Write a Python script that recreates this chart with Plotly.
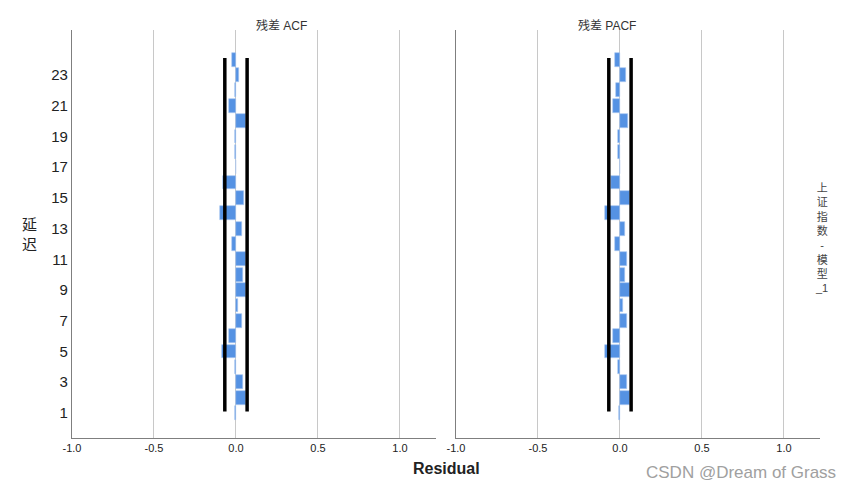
import plotly.graph_objects as go

lags = list(range(1, 25))
acf_vals = [-0.006, 0.059, 0.040, -0.006, -0.085, -0.040, 0.035, 0.010, 0.059, 0.045, 0.059, -0.026,
            0.039, -0.098, 0.049, -0.080, 0.001, -0.004, -0.005, 0.059, -0.040, -0.006, 0.020, -0.026]
pacf_vals = [-0.006, 0.061, 0.041, -0.014, -0.094, -0.045, 0.045, 0.020, 0.061, 0.030, 0.045, -0.033,
             0.030, -0.089, 0.061, -0.057, 0.001, -0.012, -0.014, 0.051, -0.043, -0.024, 0.037, -0.028]
conf_limit = 0.068
conf_lag_span = [1.1, 24.1]
x_ticks = [-1.0, -0.5, 0.0, 0.5, 1.0]
x_tick_labels = ["-1.0", "-0.5", "0.0", "0.5", "1.0"]
y_ticks = list(range(1, 24, 2))
panel_titles = ["残差 ACF", "残差 PACF"]

FONT = "Arial, Liberation Sans, Noto Sans CJK SC"
BAR_COLOR = "#5592E3"
W, H = 854, 504

fig = go.Figure()

for i, vals in enumerate([acf_vals, pacf_vals]):
    xa = "x" if i == 0 else "x2"
    ya = "y" if i == 0 else "y2"
    fig.add_trace(go.Bar(x=vals, y=lags, orientation="h", width=0.9,
                         marker=dict(color=BAR_COLOR, line=dict(color="#a9c8f0", width=0.6)),
                         xaxis=xa, yaxis=ya, showlegend=False, hoverinfo="x+y"))
    for s in (-1, 1):
        fig.add_trace(go.Scatter(x=[s * conf_limit] * 2, y=conf_lag_span, mode="lines",
                                 line=dict(color="black", width=3.5),
                                 xaxis=xa, yaxis=ya, showlegend=False, hoverinfo="skip"))

px = lambda v: v / W
py = lambda v: 1 - v / H

axis_common = dict(range=[-1.0, 1.22], tickvals=x_ticks, ticktext=x_tick_labels,
                   showgrid=True, gridcolor="#c8c8c8", gridwidth=1, zeroline=False,
                   showline=True, linecolor="#7f7f7f", linewidth=1.2, ticks="", automargin=False,
                   tickfont=dict(family=FONT, size=11, color="#222"), fixedrange=True)
yaxis_common = dict(range=[-0.63, 25.93], tickvals=y_ticks, showgrid=False, zeroline=False,
                    showline=True, linecolor="#7f7f7f", linewidth=1.2, ticks="", automargin=False,
                    fixedrange=True)

fig.update_layout(
    width=W, height=H, margin=dict(l=0, r=0, t=0, b=0),
    paper_bgcolor="white", plot_bgcolor="white", bargap=0,
    xaxis=dict(domain=[px(72), px(436)], anchor="y", **axis_common),
    xaxis2=dict(domain=[px(456), px(820)], anchor="y2", **axis_common),
    yaxis=dict(domain=[py(438), py(30)], anchor="x",
               tickfont=dict(family=FONT, size=15, color="#222"), **yaxis_common),
    yaxis2=dict(domain=[py(438), py(30)], anchor="x2", showticklabels=False, **yaxis_common),
)

ann = []
for t, cx in zip(panel_titles, [254, 638]):
    ann.append(dict(text=t, x=px(cx), y=py(17), xref="paper", yref="paper", showarrow=False,
                    font=dict(family=FONT, size=12, color="#333")))
ann.append(dict(text="<b>Residual</b>", x=px(446), y=py(479), xref="paper", yref="paper",
                showarrow=False, font=dict(family=FONT, size=16, color="#222")))
ann.append(dict(text="延<br>迟", x=px(30), y=py(234), xref="paper", yref="paper",
                xanchor="center", showarrow=False, font=dict(family=FONT, size=15, color="#222")))
ann.append(dict(text="上<br>证<br>指<br>数<br>-<br>模<br>型<br>_1", x=px(830), y=py(238),
                xref="paper", yref="paper", showarrow=False,
                font=dict(family=FONT, size=11, color="#444")))
ann.append(dict(text="CSDN @Dream of Grass", x=px(838), y=py(484), xref="paper", yref="paper",
                xanchor="right", showarrow=False, font=dict(family=FONT, size=17, color="#a0a0a0")))
fig.update_layout(annotations=ann)

fig.write_html("out.html")
